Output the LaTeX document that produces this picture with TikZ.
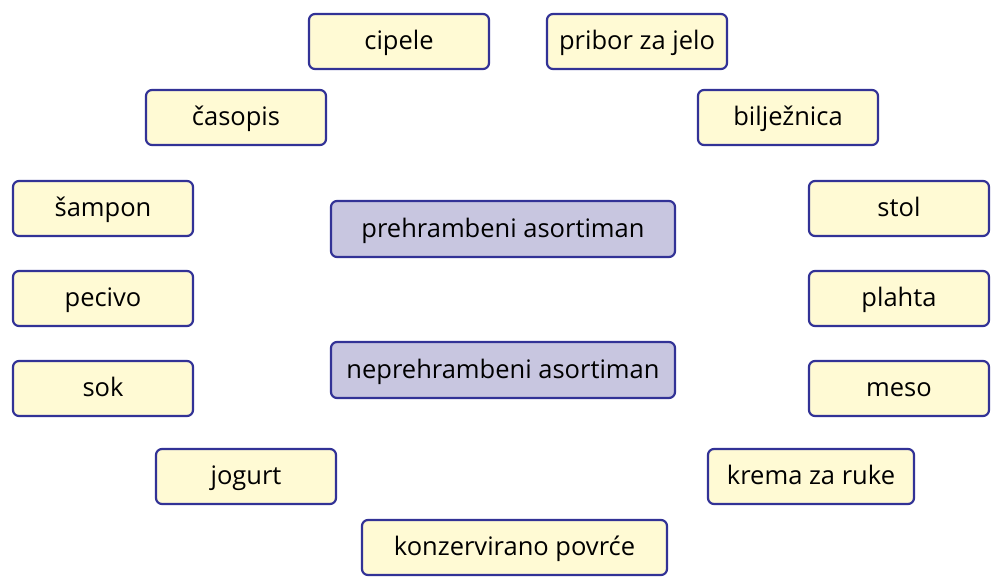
\documentclass[tikz,border=0pt]{standalone}
\usepackage{fontspec}
\setmainfont{Open Sans}
\definecolor{boxyellow}{RGB}{255,250,212}
\definecolor{boxlilac}{RGB}{200,198,224}
\definecolor{boxedge}{RGB}{50,50,150}
\tikzset{every picture/.style={line width=0.75pt}}
\tikzset{
  item/.style={draw=boxedge, line width=2.2pt, fill=boxyellow, rounded corners=6pt,
    minimum width=180pt, minimum height=55pt, inner sep=0pt, text height=19pt, text depth=3pt,
    font=\fontsize{25.5}{30}\selectfont},
  group/.style={item, fill=boxlilac, minimum width=344pt, minimum height=56pt}
}

\begin{document}
\begin{tikzpicture}[x=1pt,y=1pt,yscale=-1,xscale=1]
\useasboundingbox (0,0) rectangle (994,583);

% groups
\node [group] (prehr) at (503,229) {prehrambeni asortiman};
\node [group] (neprehr) at (503,370) {neprehrambeni asortiman};

% left column
\node [item] (cipele) at (399,41.5) {cipele};
\node [item] (casopis) at (236,117.5) {časopis};
\node [item] (sampon) at (103,208.5) {šampon};
\node [item] (pecivo) at (103,298.5) {pecivo};
\node [item] (sok) at (103,388.5) {sok};
\node [item] (jogurt) at (246,476.5) {jogurt};
\node [item, minimum width=305pt] (konzerv) at (514.5,547.5) {konzervirano povrće};

% right column
\node [item] (pribor) at (637,41.5) {pribor za jelo};
\node [item] (biljeznica) at (788,117.5) {bilježnica};
\node [item] (stol) at (899,208.5) {stol};
\node [item] (plahta) at (899,298.5) {plahta};
\node [item] (meso) at (899,388.5) {meso};
\node [item, minimum width=206pt] (krema) at (811,476.5) {krema za ruke};

\end{tikzpicture}
\end{document}
